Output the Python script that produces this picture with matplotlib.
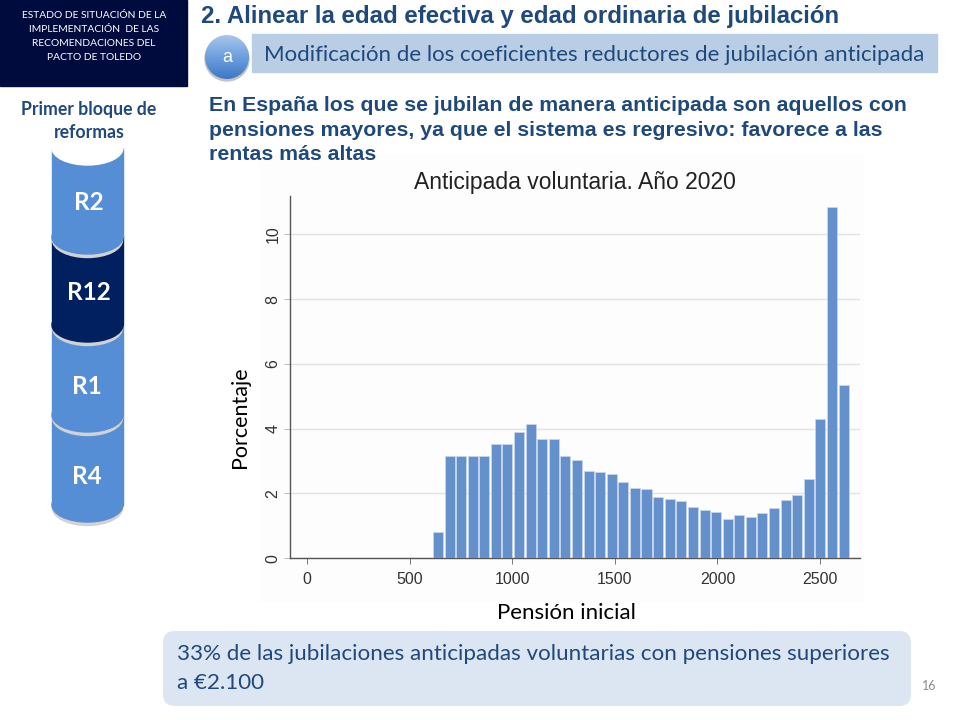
import numpy as np
import matplotlib
matplotlib.use('Agg')
import matplotlib.pyplot as plt
from matplotlib.patches import Rectangle, Ellipse, FancyBboxPatch, Circle

# bin centres and heights
bin_centers = [637, 694, 750, 807, 863, 920, 976, 1033, 1089, 1146, 1202, 1259,
               1315, 1372, 1428, 1485, 1541, 1598, 1654, 1711, 1767, 1824, 1880,
               1937, 1993, 2050, 2106, 2163, 2219, 2276, 2332, 2389, 2445, 2502,
               2558, 2615]
porcentaje = [0.82, 3.16, 3.16, 3.16, 3.16, 3.54, 3.54, 3.91, 4.15, 3.68, 3.68, 3.16,
              3.03, 2.70, 2.66, 2.59, 2.34, 2.18, 2.15, 1.90, 1.83, 1.76, 1.58,
              1.48, 1.42, 1.22, 1.34, 1.28, 1.40, 1.56, 1.79, 1.96, 2.46, 4.30,
              10.85, 5.34]
x_ticks = [0, 500, 1000, 1500, 2000, 2500]
y_ticks = [0, 2, 4, 6, 8, 10]

para_lines = ['En España los que se jubilan de manera anticipada son aquellos con',
              'pensiones mayores, ya que el sistema es regresivo: favorece a las',
              'rentas más altas']
header_lines = ['ESTADO DE SITUACIÓN DE LA', 'IMPLEMENTACIÓN  DE LAS',
                'RECOMENDACIONES DEL', 'PACTO DE TOLEDO']
reformas = ['R2', 'R12', 'R1', 'R4']

BLUE = '#558ED5'
NAVY = '#002060'
TXT = '#1F497D'

fig = plt.figure(figsize=(9.6, 7.2), dpi=100)

# whole slide in pixel coords
bg = fig.add_axes([0, 0, 1, 1])
bg.set_xlim(0, 960)
bg.set_ylim(720, 0)
bg.axis('off')

bg.add_patch(Rectangle((0, 0), 187, 86, color='#000B3D'))
for i, s in enumerate(header_lines):
    bg.text(94, 15 + i * 14.2, s, color='white', fontsize=7.4, family='Lato',
            ha='center', va='center')

bg.text(201, 16, '2. Alinear la edad efectiva y edad ordinaria de jubilación',
        color=TXT, fontsize=17.3, family='Liberation Sans', weight='bold', va='center')

bg.add_patch(Rectangle((252, 34), 685, 38, color='#B9CDE5'))
bg.text(264, 55, 'Modificación de los coeficientes reductores de jubilación anticipada',
        color=TXT, fontsize=16.05, family='Lato', va='center')

# round "a" button, gradient clipped to a circle
bg.add_patch(Circle((227, 59), 22, color='#C4C4C4', zorder=2))
grad = np.linspace(0, 1, 64).reshape(-1, 1)
cm = matplotlib.colors.LinearSegmentedColormap.from_list('b', ['#A9C6EC', '#6C9FDE', '#3E78C6'])
im = bg.imshow(grad, extent=(205, 249, 79, 35), cmap=cm, zorder=3, aspect='auto')
im.set_clip_path(Circle((227, 57), 22, transform=bg.transData))
bg.set_xlim(0, 960)
bg.set_ylim(720, 0)
bg.text(227, 57, 'a', color='white', fontsize=13, family='Liberation Sans',
        ha='center', va='center', zorder=4)

for i, s in enumerate(para_lines):
    bg.text(209, 105.5 + i * 24.5, s, color=TXT, fontsize=15.3, family='Liberation Sans',
            weight='bold', va='center')

# zorder above the white cylinder top, which reaches up behind "reformas"
bg.text(89, 110, 'Primer bloque de', color=TXT, fontsize=12.7, family='Lato',
        weight='bold', ha='center', va='center', zorder=8)
bg.text(89, 133, 'reformas', color=TXT, fontsize=12.7, family='Lato',
        weight='bold', ha='center', va='center', zorder=8)

# cylinder stack, drawn bottom up so each one sits on the next
cyl_bottoms = {'R2': 237, 'R12': 325, 'R1': 415, 'R4': 505}
cyl_colors = {'R2': BLUE, 'R12': NAVY, 'R1': BLUE, 'R4': BLUE}
cyl_labels = {'R2': (89, 202), 'R12': (89, 292), 'R1': (87, 386), 'R4': (87, 476)}
for k in reversed(reformas):
    yb = cyl_bottoms[k]
    c = cyl_colors[k]
    bg.add_patch(Ellipse((87.5, yb + 3), 70, 35, color='#D2D2D2', zorder=5))
    bg.add_patch(Rectangle((52, yb - 89), 71, 89, color=c, zorder=5))
    bg.add_patch(Ellipse((87.5, yb), 71, 34, color=c, zorder=5))
bg.add_patch(Ellipse((87.5, 148), 71, 34, color='white', zorder=6))
for k in reformas:
    bg.text(*cyl_labels[k], k, color='white', fontsize=17.5, family='Lato', weight='bold',
            ha='center', va='center', zorder=7)

# faint backdrop of the pasted stata picture
bg.add_patch(Rectangle((260, 155), 603, 446, color='#FDFDFD', zorder=1))

bg.add_patch(FancyBboxPatch((163, 631), 748, 75, boxstyle='round,pad=0,rounding_size=12',
                            fc='#DCE6F2', ec='none', zorder=1))
bg.text(177, 654, '33% de las jubilaciones anticipadas voluntarias con pensiones superiores',
        color=TXT, fontsize=16.1, family='Lato', va='center', zorder=2)
bg.text(177, 683, 'a €2.100', color=TXT, fontsize=16.1, family='Lato', va='center', zorder=2)
bg.text(929, 686, '16', color='#8B8B8B', fontsize=9, family='Lato', ha='center', va='center')

bg.text(240, 417, 'Porcentaje', fontsize=15.5, family='Lato', rotation=90,
        ha='center', va='center', zorder=2)
bg.text(566, 613, 'Pensión inicial', fontsize=16, family='Lato',
        ha='center', va='center', zorder=2)

# histogram axes placed on its pixel box
ax = fig.add_axes([290 / 960, 1 - 558.3 / 720, 570 / 960, 362.3 / 720])
ax.patch.set_alpha(0)
ax.bar(bin_centers, porcentaje, width=49, color='#6490CB', edgecolor='#C9D8EE',
       linewidth=0.5, zorder=3)
ax.set_xlim(-84, 2695)
ax.set_ylim(0, 11.18)
ax.set_xticks(x_ticks)
ax.set_yticks(y_ticks)
ax.grid(axis='y', color='#E3E3E3', linewidth=1, zorder=0)
ax.set_axisbelow(True)
for s in ['top', 'right']:
    ax.spines[s].set_visible(False)
for s in ['left', 'bottom']:
    ax.spines[s].set_color('#555555')
    ax.spines[s].set_linewidth(1.0)
ax.tick_params(axis='x', length=4, width=0.7, color='#777777', pad=6, labelsize=11.5,
               labelcolor='#333333')
ax.tick_params(axis='y', length=4, width=0.7, color='#BBBBBB', pad=3, labelsize=11.5,
               labelcolor='#333333')
for lab in ax.get_xticklabels() + ax.get_yticklabels():
    lab.set_family('Liberation Sans')
for lab in ax.get_yticklabels():
    lab.set_rotation(90)
    lab.set_va('center')
ax.set_title('Anticipada voluntaria. Año 2020', fontsize=16.5, family='Liberation Sans',
             color='#222222', pad=5)

fig.savefig('out.png', dpi=100)
